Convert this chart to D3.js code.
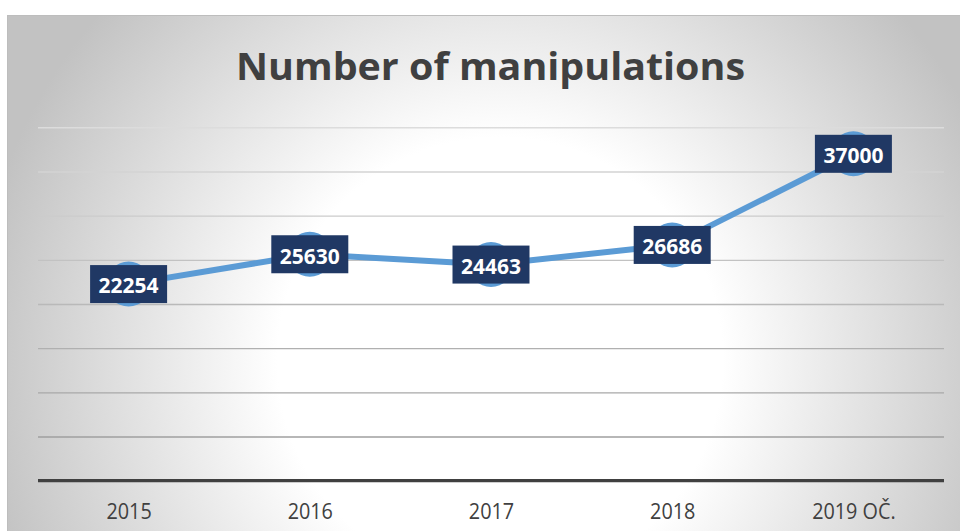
<!DOCTYPE html>
<html>
<head>
<meta charset="utf-8">
<script src="https://cdn.jsdelivr.net/npm/d3@7"></script>
<style>
  html, body { margin: 0; padding: 0; background: #ffffff; }
  svg { display: block; }
</style>
</head>
<body>
<svg id="chart" width="960" height="531"></svg>
<script>
const categories = ["2015", "2016", "2017", "2018", "2019 OČ."];
const values = [22254, 25630, 24463, 26686, 37000];
const yTicks = [0, 5000, 10000, 15000, 20000, 25000, 30000, 35000, 40000];
const title = "Number of manipulations";

const W = 960, H = 531;
const svg = d3.select("#chart");

// background panel with radial gradient
const defs = svg.append("defs");
const rg = defs.append("radialGradient")
  .attr("id", "bg").attr("gradientUnits", "userSpaceOnUse")
  .attr("cx", 500).attr("cy", 360).attr("r", 530);
rg.append("stop").attr("offset", 0).attr("stop-color", "#ffffff");
rg.append("stop").attr("offset", 0.42).attr("stop-color", "#ffffff");
rg.append("stop").attr("offset", 1).attr("stop-color", "#c2c2c2");

svg.append("rect").attr("x", 7).attr("y", 15).attr("width", W - 7).attr("height", H - 15)
  .attr("fill", "url(#bg)");
svg.append("line").attr("x1", 7).attr("x2", W).attr("y1", 15.5).attr("y2", 15.5)
  .attr("stroke", "#bdbdbd").attr("stroke-width", 1);
svg.append("line").attr("x1", 7.5).attr("x2", 7.5).attr("y1", 15).attr("y2", H)
  .attr("stroke", "#bdbdbd").attr("stroke-width", 1);

const plot = { left: 38, right: 944, top: 127.3, bottom: 480.7 };

const x = d3.scalePoint().domain(categories).range([plot.left, plot.right]).padding(0.5);
const y = d3.scaleLinear().domain([0, 40000]).range([plot.bottom, plot.top]);

// gridlines
const gridColor = d3.scaleLinear().domain([5000, 40000]).range(["#9f9f9f", "#dcdcdc"]);
const grid = svg.append("g").attr("transform", `translate(${plot.left},0)`)
  .call(d3.axisLeft(y).tickValues(yTicks.filter(d => d > 0)).tickSize(-(plot.right - plot.left)).tickFormat(""));
grid.select(".domain").remove();
grid.selectAll(".tick line")
  .attr("stroke", d => gridColor(d)).attr("stroke-width", 1.4);

// baseline
svg.append("line")
  .attr("x1", plot.left).attr("x2", plot.right)
  .attr("y1", y(0)).attr("y2", y(0))
  .attr("stroke", "#404040").attr("stroke-width", 3.2);

// category axis
const xAxis = svg.append("g").attr("transform", `translate(0,${y(0)})`)
  .call(d3.axisBottom(x).tickSize(0).tickPadding(0));
xAxis.select(".domain").remove();
xAxis.selectAll(".tick text")
  .attr("y", 38.6).attr("dy", null)
  .attr("fill", "#404040")
  .style("font-family", "'Open Sans', sans-serif")
  .style("font-size", "22px")
  .each(function () {
    const w = this.getComputedTextLength();
    d3.select(this).attr("textLength", w * 0.9).attr("lengthAdjust", "spacingAndGlyphs");
  });

// line
const data = categories.map((c, i) => ({ c, v: values[i] }));
svg.append("path").datum(data)
  .attr("fill", "none").attr("stroke", "#5b9bd5").attr("stroke-width", 6)
  .attr("stroke-linejoin", "round")
  .attr("d", d3.line().x(d => x(d.c)).y(d => y(d.v)));

// markers
svg.selectAll("circle.m").data(data).enter().append("circle")
  .attr("class", "m")
  .attr("cx", d => x(d.c)).attr("cy", d => y(d.v)).attr("r", 22.5)
  .attr("fill", "#5b9bd5");

// labels
const lab = svg.selectAll("g.lab").data(data).enter().append("g")
  .attr("class", "lab")
  .attr("transform", d => `translate(${x(d.c)},${y(d.v)})`);
lab.append("rect").attr("x", -38.5).attr("y", -19).attr("width", 77).attr("height", 38)
  .attr("fill", "#203864");
lab.append("text")
  .attr("text-anchor", "middle").attr("y", 9.3)
  .attr("fill", "#ffffff")
  .style("font-family", "'Open Sans', sans-serif")
  .style("font-weight", 700).style("font-size", "21px")
  .text(d => d.v)
  .attr("textLength", 60).attr("lengthAdjust", "spacingAndGlyphs");

// title
svg.append("text")
  .attr("x", (236 + 745) / 2).attr("y", 80)
  .attr("text-anchor", "middle")
  .attr("fill", "#404040")
  .style("font-family", "'Open Sans', sans-serif")
  .style("font-weight", 700).style("font-size", "38px")
  .attr("textLength", 509).attr("lengthAdjust", "spacingAndGlyphs")
  .text(title);
</script>
</body>
</html>
